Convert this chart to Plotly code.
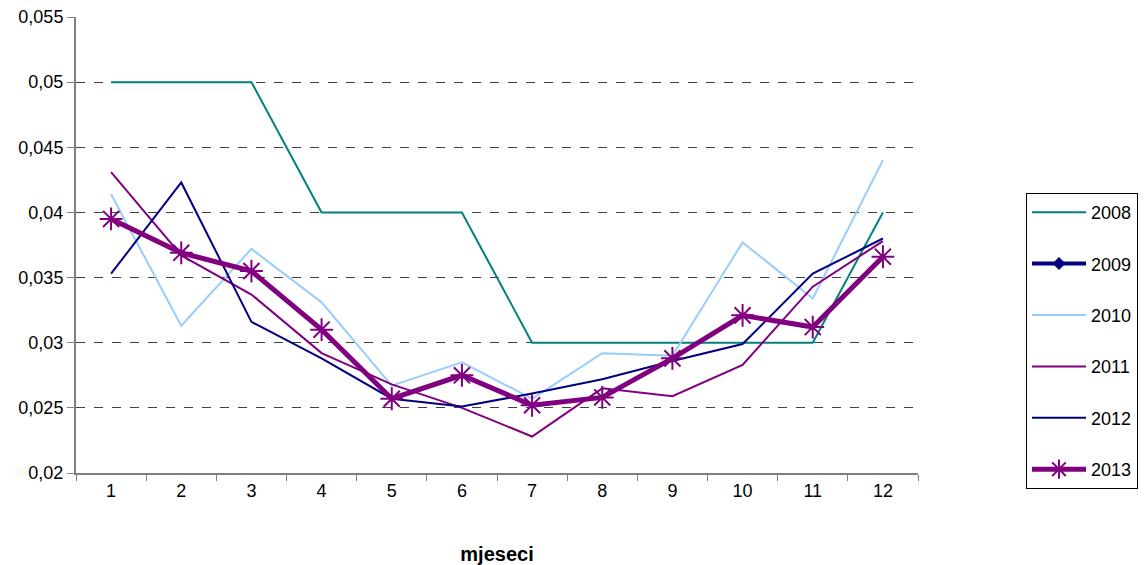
import plotly.graph_objects as go

# months on the category axis
months = ["1", "2", "3", "4", "5", "6", "7", "8", "9", "10", "11", "12"]

# monthly values per year
y2008 = [0.05, 0.05, 0.05, 0.04, 0.04, 0.04, 0.03, 0.03, 0.03, 0.03, 0.03, 0.04]
y2009 = [None] * 12
y2010 = [0.0414, 0.0313, 0.0372, 0.0331, 0.0267, 0.0285, 0.0257, 0.0292, 0.0290, 0.0377, 0.0334, 0.0440]
y2011 = [0.0431, 0.0367, 0.0337, 0.0292, 0.0268, 0.0250, 0.0228, 0.0265, 0.0259, 0.0283, 0.0343, 0.0378]
y2012 = [0.0353, 0.0423, 0.0316, 0.0288, 0.0257, 0.0251, 0.0261, 0.0272, 0.0286, 0.0299, 0.0353, 0.0380]
y2013 = [0.0395, 0.0369, 0.0355, 0.0310, 0.0257, 0.0275, 0.0252, 0.0258, 0.0288, 0.0321, 0.0312, 0.0366]

# y tick labels (decimal comma)
ytick_vals = [0.02, 0.025, 0.03, 0.035, 0.04, 0.045, 0.05, 0.055]
ytick_text = ["0,02", "0,025", "0,03", "0,035", "0,04", "0,045", "0,05", "0,055"]

FONT = "Liberation Sans, Arial, sans-serif"

fig = go.Figure()

series = [
    ("2008", y2008, dict(color="#008080", width=2), None),
    ("2009", y2009, dict(color="#000080", width=4), dict(symbol="diamond", size=10, color="#000080")),
    ("2010", y2010, dict(color="#99CCFF", width=2), None),
    ("2011", y2011, dict(color="#800080", width=2), None),
    ("2012", y2012, dict(color="#000080", width=2), None),
    ("2013", y2013, dict(color="#800080", width=5),
     dict(symbol="asterisk-open", size=19, color="#800080", line=dict(color="#800080", width=2))),
]

for name, vals, line, marker in series:
    fig.add_trace(go.Scatter(
        x=months, y=vals, name=name, legendgroup=name,
        mode="lines+markers" if marker else "lines",
        line=line, marker=marker,
    ))

fig.update_layout(
    width=1144, height=565,
    margin=dict(l=76, r=226, t=17, b=92, autoexpand=False),
    paper_bgcolor="white", plot_bgcolor="white",
    font=dict(family=FONT, size=18, color="black"),
    showlegend=True,
    legend=dict(
        xref="container", yref="container",
        x=1026 / 1144, xanchor="left", y=1 - 193 / 565, yanchor="top",
        maxheight=400,
        bordercolor="black", borderwidth=1, bgcolor="white",
        font=dict(size=18), tracegroupgap=25, itemwidth=54,
        traceorder="grouped",
    ),
    xaxis=dict(
        type="category", range=[-0.5, 11.5], automargin=False,
        showgrid=False, showline=True, linecolor="#808080", linewidth=2,
        ticks="outside", tickson="boundaries", ticklen=6, tickcolor="#808080",
        tickfont=dict(size=18),
        title=dict(text="<b>mjeseci</b>", font=dict(size=20), standoff=48),
    ),
    yaxis=dict(
        range=[0.02, 0.055], tickvals=ytick_vals, ticktext=ytick_text, automargin=False,
        showgrid=True, gridcolor="#404040", griddash="dash", gridwidth=1,
        showline=True, linecolor="#808080", linewidth=2,
        ticks="outside", ticklen=7, tickcolor="#808080",
        tickfont=dict(size=18), zeroline=False,
    ),
)

fig.write_html("out.html")
